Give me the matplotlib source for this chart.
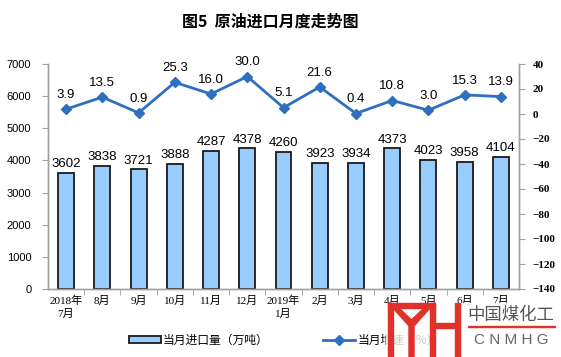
import matplotlib
matplotlib.use('Agg')
import matplotlib.pyplot as plt
from matplotlib.patches import Rectangle, Polygon

# 数据
months = ['2018年\n7月', '8月', '9月', '10月', '11月', '12月', '2019年\n1月',
          '2月', '3月', '4月', '5月', '6月', '7月']
imports = [3602, 3838, 3721, 3888, 4287, 4378, 4260, 3923, 3934, 4373, 4023, 3958, 4104]
growth = [3.9, 13.5, 0.9, 25.3, 16.0, 30.0, 5.1, 21.6, 0.4, 10.8, 3.0, 15.3, 13.9]

cjk = ['Noto Sans CJK SC', 'DejaVu Sans']
serif_cjk = ['Liberation Serif', 'Noto Sans CJK SC']
sans = ['Liberation Sans', 'DejaVu Sans']

W, H = 561, 357
fig = plt.figure(figsize=(W / 100, H / 100), dpi=100)
ax = fig.add_axes([48 / W, 1 - 289 / H, (519 - 48) / W, (289 - 64) / H])
ax2 = ax.twinx()

x = list(range(len(months)))
bars = ax.bar(x, imports, width=0.44, color='#99CCFF', edgecolor='#1a1a1a',
              linewidth=1.3, zorder=2, label='当月进口量（万吨）')
for xi, v in zip(x, imports):
    ax.annotate(str(v), (xi, v), xytext=(0, 2), textcoords='offset points',
                ha='center', va='bottom', fontsize=9.5, family=sans)

ax.set_xlim(-0.5, len(months) - 0.5)
ax.set_ylim(0, 7000)
ax.set_yticks(range(0, 7001, 1000))
ax.set_xticks(x)
ax.set_xticklabels(months, family=serif_cjk, fontsize=8, linespacing=1.3)
ax.set_xticks([i + 0.5 for i in x[:-1]], minor=True)
ax.tick_params(axis='x', which='major', length=0, pad=5)
ax.tick_params(axis='x', which='minor', length=4, color='#a0a0a0', direction='out')
ax.tick_params(axis='y', length=4, color='#a0a0a0', labelsize=8, pad=8)
for lab in ax.get_yticklabels():
    lab.set_family(sans)

line, = ax2.plot(x, growth, color='#2F6FBF', linewidth=2, marker='D',
                 markersize=4.8, zorder=3, label='当月增速（%）')
for xi, v in zip(x, growth):
    ax2.annotate('%.1f' % v, (xi, v), xytext=(0, 6), textcoords='offset points',
                 ha='center', va='bottom', fontsize=9.5, family=sans)
ax2.set_ylim(-140, 40)
ax2.set_yticks(range(-140, 41, 20))
ax2.tick_params(axis='y', length=4, color='#a0a0a0', labelsize=8, pad=6)
for lab in ax2.get_yticklabels():
    lab.set_family('Liberation Serif')
    lab.set_fontweight('bold')

for a in (ax, ax2):
    a.spines['top'].set_visible(False)
    for s in ('left', 'right', 'bottom'):
        a.spines[s].set_color('#a0a0a0')
        a.spines[s].set_linewidth(1)

fig.text(270 / W, 1 - 22 / H, '图5  原油进口月度走势图', ha='center', va='center',
         fontsize=11.5, fontweight='bold', family=cjk)

leg = fig.legend(handles=[bars, line], loc='center left',
                 bbox_to_anchor=(118 / W, 1 - 340 / H), ncol=2, frameon=False,
                 prop={'family': cjk, 'size': 8.5}, handlelength=2.7,
                 handleheight=0.6, columnspacing=4.6, handletextpad=0.2)

# 水印
def px(xx, yy):
    return (xx / W, 1 - yy / H)

red = '#E2302B'
fig.patches.append(Rectangle(px(386, 358), 175 / W, 55 / H, transform=fig.transFigure,
                             color='white', alpha=0.8, zorder=9))
for x0, y0, x1, y1 in [(388, 303, 393, 357), (388, 303, 435, 308),
                       (430, 303, 435, 357), (435, 323, 455, 328),
                       (455, 303, 460, 357)]:
    fig.patches.append(Rectangle(px(x0, y1), (x1 - x0) / W, (y1 - y0) / H,
                                 transform=fig.transFigure, color=red, zorder=10))
vpts = [(393, 308), (399, 308), (411.5, 320), (424, 308), (430, 308),
        (414, 326), (414, 357), (409, 357), (409, 326)]
fig.patches.append(Polygon([px(a, b) for a, b in vpts], closed=True,
                           transform=fig.transFigure, color=red, zorder=10))
fig.text(511 / W, 1 - 315 / H, '中国煤化工', ha='center', va='center', fontsize=12.5,
         color='#555555', family=cjk, zorder=11)
fig.patches.append(Rectangle(px(468, 327), 87 / W, 1.2 / H, transform=fig.transFigure,
                             color=red, zorder=11))
fig.text(511 / W, 1 - 340 / H, 'C N M H G', ha='center', va='center', fontsize=11,
         color='#666666', family=['Liberation Sans'], zorder=11)

fig.savefig('out.png', dpi=100)
